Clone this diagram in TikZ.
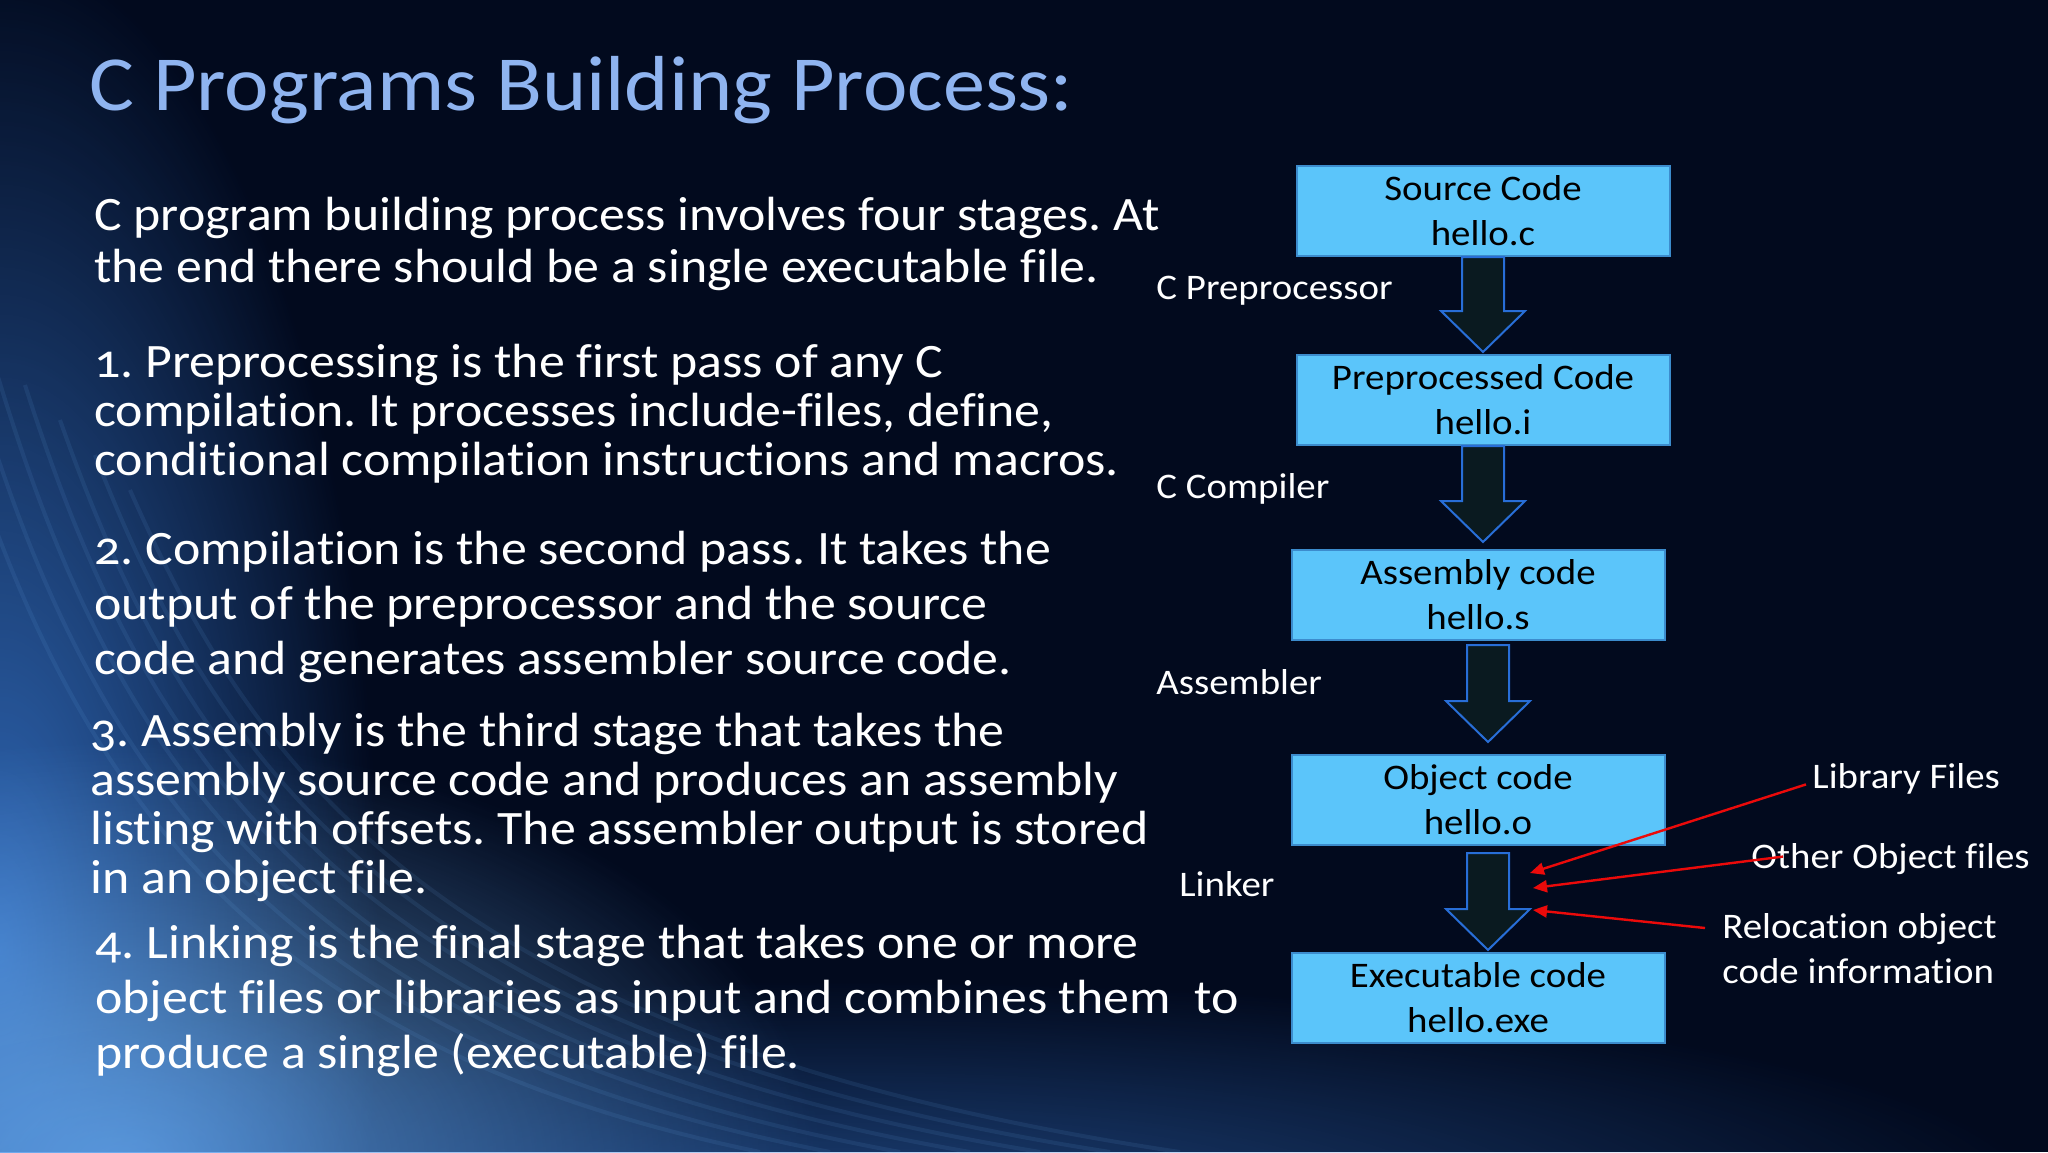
\documentclass[tikz,border=0pt]{standalone}
\usepackage{fontspec}
\setmainfont{Carlito}[Numbers=OldStyle, FakeStretch=1.08, Ligatures={NoCommon}]
\usetikzlibrary{arrows.meta,calc,fadings}

\definecolor{slidebg}{RGB}{2,10,30}
\definecolor{titleblue}{RGB}{143,180,240}
\definecolor{boxfill}{RGB}{91,197,250}
\definecolor{boxline}{RGB}{60,140,205}
\definecolor{arrowfill}{RGB}{10,26,32}
\definecolor{arrowline}{RGB}{40,110,215}
\definecolor{glow}{RGB}{60,130,225}
\definecolor{glowlight}{RGB}{110,175,240}
\definecolor{linkred}{RGB}{235,10,10}

\tikzfading[name=glowfade, inner color=transparent!0, outer color=transparent!100]
\frenchspacing

\begin{document}
\begin{tikzpicture}[x=0.5pt, y=-0.5pt,
  para/.style={anchor=north west, inner sep=0pt, align=left, text=white},
  stage/.style={rectangle, draw=boxline, line width=1pt, fill=boxfill,
                minimum width=186.5pt, minimum height=45pt, inner sep=0pt,
                align=center, font=\fontsize{18}{22.5}\selectfont},
  tool/.style={anchor=base west, inner sep=0pt, text=white,
               font=\fontsize{18}{22.5}\selectfont},
  blockarrow/.style={draw=arrowline, line width=1pt, fill=arrowfill, line join=miter},
  feed/.style={draw=linkred, line width=1.2pt, -{Triangle[length=7pt,width=6pt]}}
]

%% Background
\useasboundingbox (0,0) rectangle (2048,1152);
\fill[slidebg] (0,0) rectangle (2048,1152);
\begin{scope}
  \clip (0,0) rectangle (2048,1152);
  \fill[glow, path fading=glowfade, opacity=0.8] (0,950) ellipse [x radius=380, y radius=1000];
  \fill[glowlight, path fading=glowfade, opacity=0.8] (120,1160) ellipse [x radius=700, y radius=420];
  \fill[glow, path fading=glowfade, opacity=0.45] (850,1200) ellipse [x radius=1200, y radius=220];
  \foreach \s in {0,35,...,210}
    \draw[glowlight, opacity=0.1, line width=2pt]
      (\s-80,280+\s) .. controls (40+\s,760) and (220+\s,1040) .. (760+2*\s,1152);
\end{scope}

%% Title and text
\node[anchor=base west, inner sep=0pt, text=titleblue, font=\fontsize{39}{42}\selectfont]
  (title) at (89,110) {C Programs Building Process:};

\node[para, font=\fontsize{24}{26}\selectfont] (intro) at (94,197)
  {C program building process involves four stages. At\\
   the end there should be a single executable file.};
\node[para, font=\fontsize{24}{24.5}\selectfont] (step1) at (94,344)
  {1. Preprocessing is the first pass of any C\\
   compilation. It processes include-files, define,\\
   conditional compilation instructions and macros.};
\node[para, font=\fontsize{24}{27.5}\selectfont] (step2) at (94,531)
  {2. Compilation is the second pass. It takes the\\
   output of the preprocessor and the source\\
   code and generates assembler source code.};
\node[para, font=\fontsize{24}{24.5}\selectfont] (step3) at (90,713)
  {3. Assembly is the third stage that takes the\\
   assembly source code and produces an assembly\\
   listing with offsets. The assembler output is stored\\
   in an object file.};
\node[para, font=\fontsize{24}{27.5}\selectfont] (step4) at (95,925)
  {4. Linking is the final stage that takes one or more\\
   object files or libraries as input and combines them~ to\\
   produce a single (executable) file.};

%% Flow of files
\node[stage] (src) at (1483,211) {Source Code\\hello.c};
\node[stage] (pre) at (1483,400) {Preprocessed Code\\hello.i};
\node[stage] (asm) at (1478,595) {Assembly code\\hello.s};
\node[stage] (obj) at (1478,800) {Object code\\hello.o};
\node[stage] (exe) at (1478,998) {Executable code\\hello.exe};

\foreach \a/\b/\dx/\ga/\gb in {src/pre/0/0/2, pre/asm/0/0/7, asm/obj/10/4/12, obj/exe/10/7/2}
  \draw[blockarrow] ($(\a.south)+(\dx-21,\ga)$) -- ($(\a.south)+(\dx+21,\ga)$)
    -- ($(\a.south |- \b.north)+(\dx+21,-41-\gb)$) -- ($(\a.south |- \b.north)+(\dx+42,-41-\gb)$)
    -- ($(\a.south |- \b.north)+(\dx,-\gb)$)
    -- ($(\a.south |- \b.north)+(\dx-42,-41-\gb)$) -- ($(\a.south |- \b.north)+(\dx-21,-41-\gb)$) -- cycle;

%% Tools
\node[tool] (cpp) at (1156,299) {C Preprocessor};
\node[tool] (cc)  at (1156,498) {C Compiler};
\node[tool] (as)  at (1156,694) {Assembler};
\node[tool] (ld)  at (1179,896) {Linker};

%% Linker inputs
\node[tool] (lib) at (1812,788) {Library Files};
\node[tool] (oth) at (1751,868) {Other Object files};
\node[para, font=\fontsize{18}{22.5}\selectfont] (rel) at (1722,913)
  {Relocation object\\code information};

\coordinate (libtip) at (1530,873);
\coordinate (othtip) at (1533,888);
\coordinate (reltip) at (1533,910);

\draw[feed] ($(lib.west)+(-6,6)$) -- (libtip);
\draw[feed] ($(oth.west)+(32,-2)$) -- (othtip);
\draw[feed] ($(rel.north west)+(-17,15)$) -- (reltip);

\end{tikzpicture}
\end{document}
